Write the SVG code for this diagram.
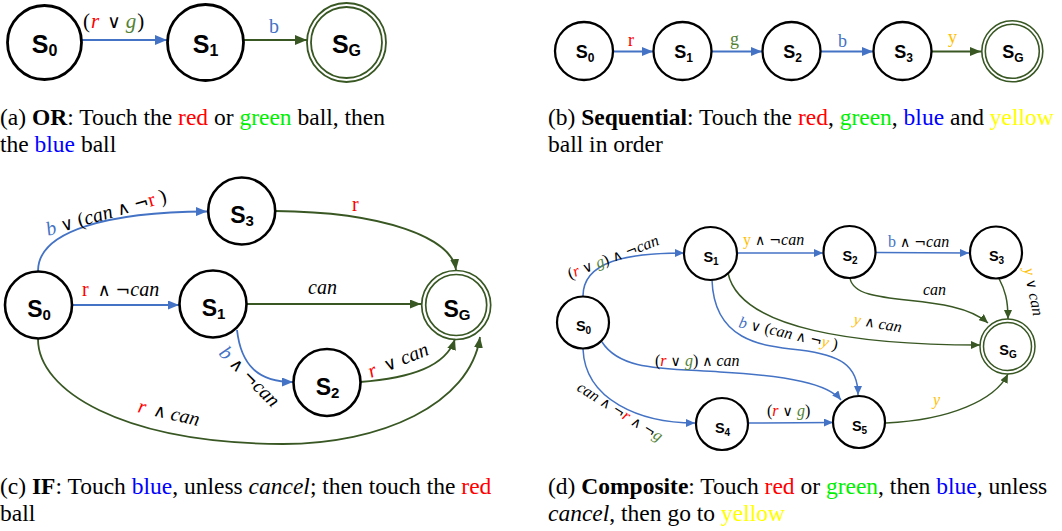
<svg xmlns="http://www.w3.org/2000/svg" width="1062" height="531" viewBox="0 0 1062 531">
<style>
.nd{fill:#fff;stroke:#000}
.gl{fill:none;stroke:#385723}
.eb{fill:none;stroke:#4472C4}
.eg{fill:none;stroke:#385723}
.n{font-family:"Liberation Sans",Arial,sans-serif;font-weight:bold;text-anchor:middle;fill:#000}
.l{font-family:"Liberation Serif","DejaVu Serif",serif;fill:#000}
.o{font-family:"DejaVu Sans",sans-serif;font-size:88%}
.i{font-style:italic}
.r{fill:#FF0000}.g{fill:#548235}.b{fill:#4472C4}.y{fill:#FFC000}
.cap{font-family:"Liberation Serif","Times New Roman",serif;font-size:23.5px;fill:#000}
.bd{font-weight:bold}
.cr{fill:#FF0000}.cg{fill:#00F000}.cb{fill:#0000FF}.cy{fill:#FFFF00}
</style>
<defs>
<marker id="abL" markerUnits="userSpaceOnUse" markerWidth="12" markerHeight="10" refX="12" refY="5" orient="auto"><path d="M0,0 L12,5 L0,10 z" fill="#4472C4"/></marker>
<marker id="agL" markerUnits="userSpaceOnUse" markerWidth="12" markerHeight="10" refX="12" refY="5" orient="auto"><path d="M0,0 L12,5 L0,10 z" fill="#385723"/></marker>
<marker id="abM" markerUnits="userSpaceOnUse" markerWidth="11" markerHeight="9" refX="11" refY="4.5" orient="auto"><path d="M0,0 L11,4.5 L0,9 z" fill="#4472C4"/></marker>
<marker id="agM" markerUnits="userSpaceOnUse" markerWidth="11" markerHeight="9" refX="11" refY="4.5" orient="auto"><path d="M0,0 L11,4.5 L0,9 z" fill="#385723"/></marker>
<marker id="abS" markerUnits="userSpaceOnUse" markerWidth="9" markerHeight="8" refX="9" refY="4" orient="auto"><path d="M0,0 L9,4 L0,8 z" fill="#4472C4"/></marker>
<marker id="agS" markerUnits="userSpaceOnUse" markerWidth="9" markerHeight="8" refX="9" refY="4" orient="auto"><path d="M0,0 L9,4 L0,8 z" fill="#385723"/></marker>
</defs>

<!-- Panel (a) -->
<g id="edges-a">
<path class="eb" stroke-width="2" marker-end="url(#abL)" d="M82,40 L167,40"/>
<path class="eg" stroke-width="2" marker-end="url(#agL)" d="M244,40 L307,40"/>
<text class="l" x="83" y="28" font-size="21">(<tspan class="r i" dx="1">r</tspan><tspan class="o" dx="8">∨</tspan><tspan class="g i" dx="5">g</tspan><tspan dx="1">)</tspan></text>
<text class="l b" x="269" y="33" font-size="20">b</text>
</g>
<g id="a-S0"><circle class="nd" cx="44.5" cy="42.5" r="37" stroke-width="2.8"/><text class="n" x="44.5" y="53" font-size="25">S<tspan font-size="16" dy="3">0</tspan></text></g>
<g id="a-S1"><circle class="nd" cx="205.5" cy="42.5" r="38" stroke-width="2.8"/><text class="n" x="205.5" y="53" font-size="25">S<tspan font-size="16" dy="3">1</tspan></text></g>
<g id="a-SG"><circle class="gl" cx="346.5" cy="42.5" r="39.5" stroke-width="1.8" fill="#fff"/><circle class="gl" cx="346.5" cy="42.5" r="35.5" stroke-width="1.8"/><text class="n" x="346.5" y="53" font-size="25">S<tspan font-size="16" dy="3">G</tspan></text></g>

<!-- Panel (b) -->
<g id="edges-b">
<path class="eb" stroke-width="2" marker-end="url(#abM)" d="M613,51.5 L653,51.5"/>
<path class="eb" stroke-width="2" marker-end="url(#abM)" d="M712,51.5 L762,51.5"/>
<path class="eb" stroke-width="2" marker-end="url(#abM)" d="M821,51.5 L873,51.5"/>
<path class="eg" stroke-width="2" marker-end="url(#agM)" d="M932,51.5 L981,51.5"/>
<text class="l r" x="628" y="46" font-size="18">r</text>
<text class="l g" x="730" y="45" font-size="18">g</text>
<text class="l b" x="838" y="46.5" font-size="18">b</text>
<text class="l y" x="948" y="43" font-size="18">y</text>
</g>
<g id="b-S0"><circle class="nd" cx="584" cy="51" r="29" stroke-width="2.3"/><text class="n" x="585" y="58" font-size="18">S<tspan font-size="12" dy="4">0</tspan></text></g>
<g id="b-S1"><circle class="nd" cx="682.5" cy="51" r="29" stroke-width="2.3"/><text class="n" x="683.5" y="58" font-size="18">S<tspan font-size="12" dy="4">1</tspan></text></g>
<g id="b-S2"><circle class="nd" cx="791.5" cy="51" r="29" stroke-width="2.3"/><text class="n" x="792.5" y="58" font-size="18">S<tspan font-size="12" dy="4">2</tspan></text></g>
<g id="b-S3"><circle class="nd" cx="902.5" cy="51" r="29" stroke-width="2.3"/><text class="n" x="903.5" y="58" font-size="18">S<tspan font-size="12" dy="4">3</tspan></text></g>
<g id="b-SG"><circle class="gl" cx="1012.3" cy="51.3" r="30.5" stroke-width="1.6" fill="#fff"/><circle class="gl" cx="1012.3" cy="51.3" r="27" stroke-width="1.6"/><text class="n" x="1013" y="58" font-size="18">S<tspan font-size="12" dy="4">G</tspan></text></g>

<!-- Panel (c) -->
<g id="edges-c">
<path class="eb" stroke-width="1.8" marker-end="url(#abM)" d="M38,271 C38,230 110,212 207,211.5"/>
<path class="eg" stroke-width="1.8" marker-end="url(#agM)" d="M275,211 C385,212 452,238 456,270"/>
<path class="eb" stroke-width="1.8" marker-end="url(#abM)" d="M72,305 L179,305"/>
<path class="eg" stroke-width="1.8" marker-end="url(#agM)" d="M247,304 L421,304"/>
<path class="eb" stroke-width="1.8" marker-end="url(#abM)" d="M237,330 C241,365 258,382 293,382"/>
<path class="eg" stroke-width="1.8" marker-end="url(#agM)" d="M360,382 C412,378 446,366 455,339"/>
<path class="eg" stroke-width="1.8" marker-end="url(#agM)" d="M38,339 C38,390 120,443 283,444 C380,444 470,405 480,337"/>
<text class="l" font-size="20" transform="translate(48,236) rotate(-16)"><tspan class="b i">b</tspan> <tspan class="o">∨</tspan> (<tspan class="i">can</tspan> <tspan class="o">∧</tspan> <tspan class="o">¬</tspan><tspan class="r">r</tspan> )</text>
<text class="l r" x="352" y="210.5" font-size="20">r</text>
<text class="l" x="82" y="296" font-size="20"><tspan class="r">r</tspan><tspan class="o" dx="9">∧</tspan> <tspan class="o">¬</tspan><tspan class="i">can</tspan></text>
<text class="l i" x="308" y="294" font-size="20">can</text>
<text class="l" font-size="20" transform="translate(218,354) rotate(45)"><tspan class="b i">b</tspan> <tspan class="o">∧</tspan> <tspan class="o">¬</tspan><tspan class="i">can</tspan></text>
<text class="l" font-size="20" transform="translate(371,378) rotate(-22)"><tspan class="r i">r</tspan><tspan class="o" dx="9">∨</tspan> <tspan class="i">can</tspan></text>
<text class="l" font-size="20" transform="translate(137,412) rotate(13)"><tspan class="r i">r</tspan><tspan class="o" dx="8">∧</tspan> <tspan class="i">can</tspan></text>
</g>
<g id="c-S3"><circle class="nd" cx="241.7" cy="211" r="33.5" stroke-width="2.6"/><text class="n" x="242" y="223" font-size="23">S<tspan font-size="15" dy="3">3</tspan></text></g>
<g id="c-S0"><circle class="nd" cx="38.5" cy="305" r="33.5" stroke-width="2.6"/><text class="n" x="39" y="317" font-size="23">S<tspan font-size="15" dy="3">0</tspan></text></g>
<g id="c-S1"><circle class="nd" cx="213" cy="304" r="33.5" stroke-width="2.6"/><text class="n" x="213.5" y="316" font-size="23">S<tspan font-size="15" dy="3">1</tspan></text></g>
<g id="c-S2"><circle class="nd" cx="327" cy="382.5" r="33.5" stroke-width="2.6"/><text class="n" x="327.5" y="394.5" font-size="23">S<tspan font-size="15" dy="3">2</tspan></text></g>
<g id="c-SG"><circle class="gl" cx="456.2" cy="305" r="34.5" stroke-width="1.7" fill="#fff"/><circle class="gl" cx="456.2" cy="305" r="30.5" stroke-width="1.7"/><text class="n" x="457" y="317" font-size="23">S<tspan font-size="15" dy="3">G</tspan></text></g>

<!-- Panel (d) -->
<g id="edges-d">
<path class="eb" stroke-width="1.5" marker-end="url(#abS)" d="M583,296 C583,262 625,253 684,253"/>
<path class="eb" stroke-width="1.5" marker-end="url(#abS)" d="M737,253 L823,253"/>
<path class="eb" stroke-width="1.5" marker-end="url(#abS)" d="M876,252.5 L969,253"/>
<path class="eg" stroke-width="1.5" marker-end="url(#agS)" d="M999,278.5 C1005,290 1008,300 1008,319"/>
<path class="eg" stroke-width="1.5" marker-end="url(#agS)" d="M850,278 C855,310 950,290 988,323"/>
<path class="eg" stroke-width="1.5" marker-end="url(#agS)" d="M728,273 C740,330 860,345 980,345"/>
<path class="eb" stroke-width="1.5" marker-end="url(#abS)" d="M712,280 C714,340 760,346 800,350 C840,355 858,365 858,395"/>
<path class="eb" stroke-width="1.5" marker-end="url(#abS)" d="M602,342 C620,370 660,368 720,372 C790,376 828,384 841,400"/>
<path class="eb" stroke-width="1.5" marker-end="url(#abS)" d="M583,349 C585,400 640,423 695,423"/>
<path class="eb" stroke-width="1.5" marker-end="url(#abS)" d="M748,423 L833,422.5"/>
<path class="eg" stroke-width="1.5" marker-end="url(#agS)" d="M886,423 C950,420 995,400 1008,374"/>
<text class="l" font-size="16" transform="translate(570,279) rotate(-21)">(<tspan class="r i">r</tspan> <tspan class="o">∨</tspan> <tspan class="g i">g</tspan>) <tspan class="o">∧</tspan> <tspan class="o">¬</tspan><tspan class="i">can</tspan></text>
<text class="l" x="743" y="245" font-size="16"><tspan class="y">y</tspan> <tspan class="o">∧</tspan> <tspan class="o">¬</tspan><tspan class="i">can</tspan></text>
<text class="l" x="888" y="246.5" font-size="16"><tspan class="b">b</tspan> <tspan class="o">∧</tspan> <tspan class="o">¬</tspan><tspan class="i">can</tspan></text>
<text class="l" font-size="16" transform="translate(1024,269) rotate(79)"><tspan class="y i">y</tspan> <tspan class="o">∨</tspan> <tspan class="i">can</tspan></text>
<text class="l i" x="923" y="295" font-size="16">can</text>
<text class="l" font-size="16" transform="translate(853,324) rotate(10)"><tspan class="y i">y</tspan> <tspan class="o">∧</tspan> <tspan class="i">can</tspan></text>
<text class="l" font-size="16" transform="translate(738,327) rotate(13)"><tspan class="b i">b</tspan> <tspan class="o">∨</tspan> (<tspan class="i">can</tspan> <tspan class="o">∧</tspan> <tspan class="o">¬</tspan><tspan class="y i">y</tspan> )</text>
<text class="l" x="655" y="366" font-size="16">(<tspan class="r i">r</tspan> <tspan class="o">∨</tspan> <tspan class="g i">g</tspan>) <tspan class="o">∧</tspan> <tspan class="i">can</tspan></text>
<text class="l" font-size="16" transform="translate(576,390) rotate(32)"><tspan class="i">can</tspan> <tspan class="o">∧</tspan> <tspan class="o">¬</tspan><tspan class="r i">r</tspan> <tspan class="o">∧</tspan> <tspan class="o">¬</tspan><tspan class="g i">g</tspan></text>
<text class="l" x="767" y="416" font-size="16">(<tspan class="r i">r</tspan> <tspan class="o">∨</tspan> <tspan class="g i">g</tspan>)</text>
<text class="l y i" x="933" y="405" font-size="16">y</text>
</g>
<g id="d-S0"><circle class="nd" cx="583" cy="322.5" r="26" stroke-width="2.2"/><text class="n" x="583.5" y="331" font-size="14.5">S<tspan font-size="10" dy="3">0</tspan></text></g>
<g id="d-S1"><circle class="nd" cx="710.5" cy="253.5" r="26.5" stroke-width="2.2"/><text class="n" x="711" y="262" font-size="14.5">S<tspan font-size="10" dy="3">1</tspan></text></g>
<g id="d-S2"><circle class="nd" cx="849.5" cy="252" r="26" stroke-width="2.2"/><text class="n" x="850" y="260.5" font-size="14.5">S<tspan font-size="10" dy="3">2</tspan></text></g>
<g id="d-S3"><circle class="nd" cx="996" cy="252.5" r="26" stroke-width="2.2"/><text class="n" x="996.5" y="261" font-size="14.5">S<tspan font-size="10" dy="3">3</tspan></text></g>
<g id="d-S4"><circle class="nd" cx="722" cy="424" r="26" stroke-width="2.2"/><text class="n" x="722.5" y="432.5" font-size="14.5">S<tspan font-size="10" dy="3">4</tspan></text></g>
<g id="d-S5"><circle class="nd" cx="859" cy="422" r="26" stroke-width="2.2"/><text class="n" x="859.5" y="430.5" font-size="14.5">S<tspan font-size="10" dy="3">5</tspan></text></g>
<g id="d-SG"><circle class="gl" cx="1007.5" cy="346.5" r="27.5" stroke-width="1.5" fill="#fff"/><circle class="gl" cx="1007.5" cy="346.5" r="24" stroke-width="1.5"/><text class="n" x="1008" y="355" font-size="14.5">S<tspan font-size="10" dy="3">G</tspan></text></g>

<!-- Captions -->
<g id="captions">
<text class="cap" x="0" y="124.5">(a) <tspan class="bd">OR</tspan>: Touch the <tspan class="cr">red</tspan> or <tspan class="cg">green</tspan> ball, then</text>
<text class="cap" x="0" y="151.5">the <tspan class="cb">blue</tspan> ball</text>
<text class="cap" x="548" y="124.5">(b) <tspan class="bd">Sequential</tspan>: Touch the <tspan class="cr">red</tspan>, <tspan class="cg">green</tspan>, <tspan class="cb">blue</tspan> and <tspan class="cy">yellow</tspan></text>
<text class="cap" x="548" y="151.5">ball in order</text>
<text class="cap" x="0" y="494">(c) <tspan class="bd">IF</tspan>: Touch <tspan class="cb">blue</tspan>, unless <tspan class="i">cancel</tspan>; then touch the <tspan class="cr">red</tspan></text>
<text class="cap" x="0" y="521">ball</text>
<text class="cap" x="548" y="494">(d) <tspan class="bd">Composite</tspan>: Touch <tspan class="cr">red</tspan> or <tspan class="cg">green</tspan>, then <tspan class="cb">blue</tspan>, unless</text>
<text class="cap" x="548" y="521"><tspan class="i">cancel</tspan>, then go to <tspan class="cy">yellow</tspan></text>
</g>
</svg>
